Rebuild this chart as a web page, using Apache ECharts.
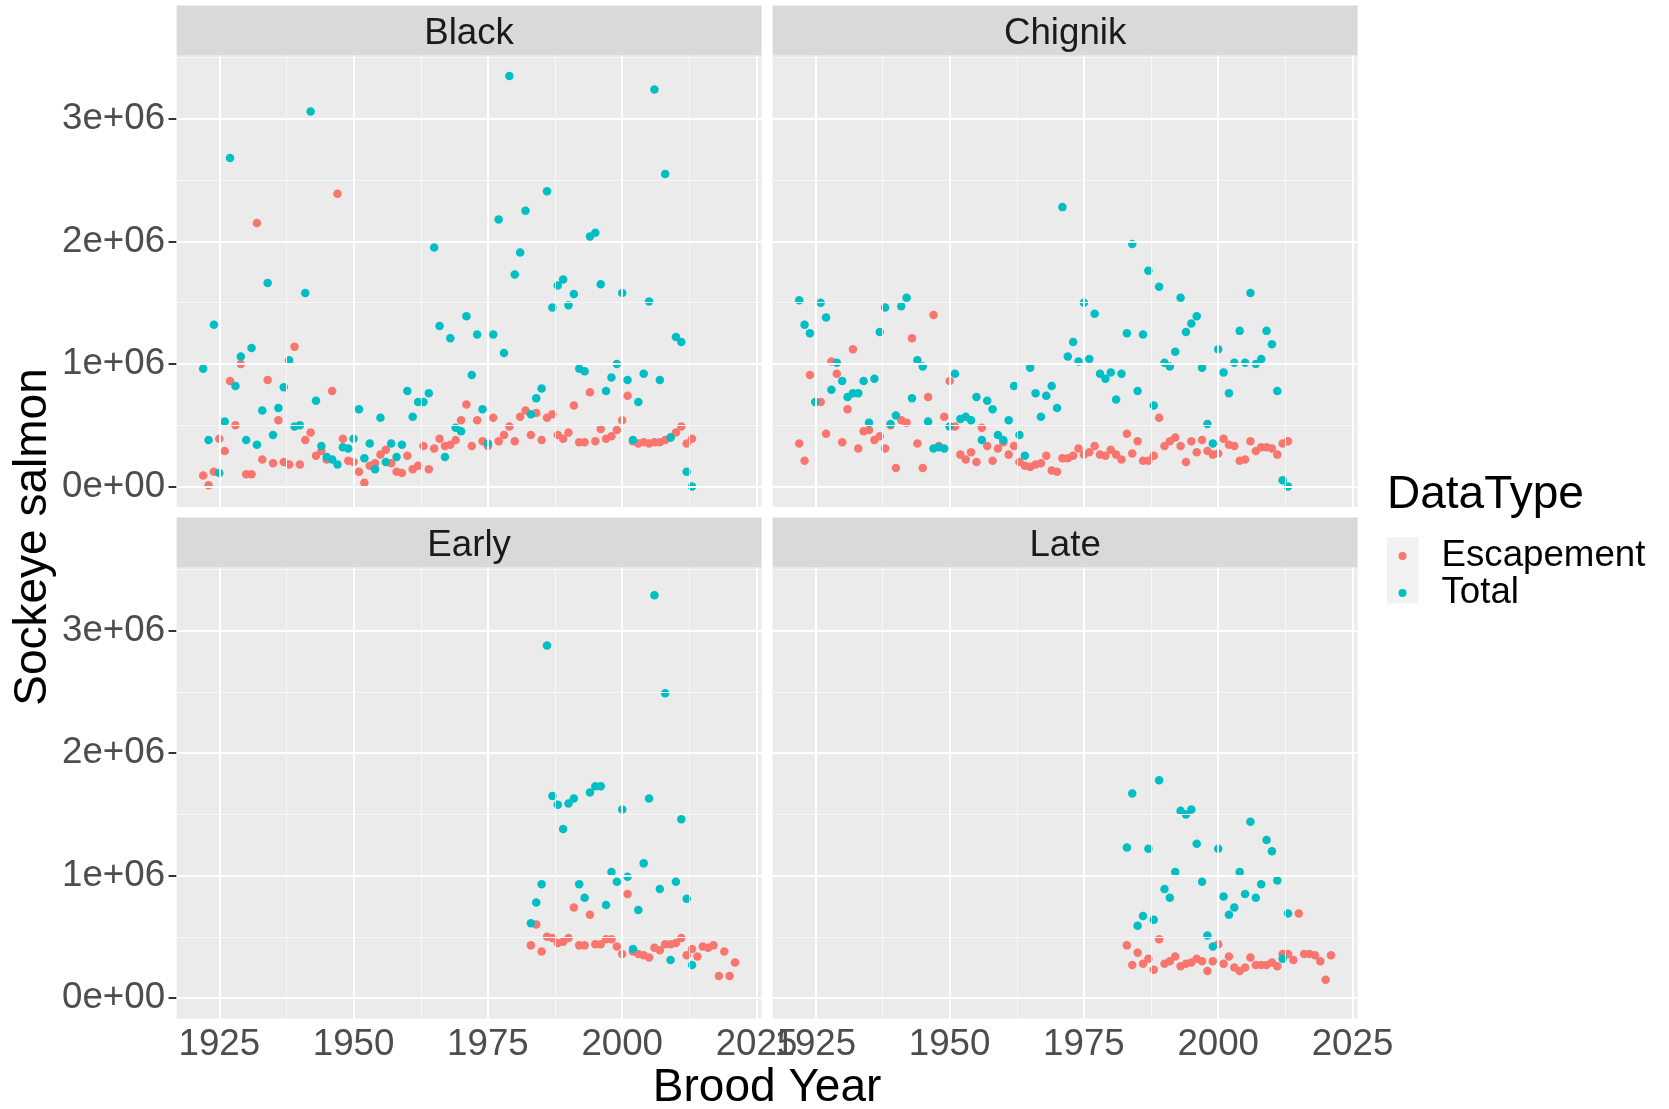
<!DOCTYPE html>
<html>
<head>
<meta charset="utf-8">
<script src="https://cdn.jsdelivr.net/npm/echarts@6/dist/echarts.min.js"></script>
<style>
html,body{margin:0;padding:0;background:#ffffff;}
#chart{width:1669px;height:1109px;}
</style>
</head>
<body>
<div id="chart"></div>
<script>
// ---------- data (values in millions of fish) ----------
const panelNames = ['Black', 'Chignik', 'Early', 'Late'];
const typeNames = ['Escapement', 'Total'];
const typeColors = ['#F8766D', '#00BFC4'];

const yTickValues = [0, 1000000, 2000000, 3000000];
const yTickLabels = ['0e+00', '1e+06', '2e+06', '3e+06'];
const yMinorValues = [500000, 1500000, 2500000, 3500000];
const xTickValues = [1925, 1950, 1975, 2000, 2025];
const xTickLabels = ['1925', '1950', '1975', '2000', '2025'];
const xMinorValues = [1937.5, 1962.5, 1987.5, 2012.5];

const blackEscapement = [[1922,0.09],[1923,0.01],[1924,0.12],[1925,0.39],[1926,0.29],[1927,0.86],[1928,0.50],[1929,1.00],[1930,0.10],[1931,0.10],[1932,2.15],[1933,0.22],[1934,0.87],[1935,0.19],[1936,0.54],[1937,0.20],[1938,0.18],[1939,1.14],[1940,0.18],[1941,0.38],[1942,0.44],[1943,0.25],[1944,0.29],[1945,0.22],[1946,0.78],[1947,2.39],[1948,0.39],[1949,0.21],[1950,0.20],[1951,0.12],[1952,0.03],[1953,0.17],[1954,0.19],[1955,0.26],[1956,0.30],[1957,0.19],[1958,0.12],[1959,0.11],[1960,0.25],[1961,0.14],[1962,0.17],[1963,0.33],[1964,0.14],[1965,0.31],[1966,0.39],[1967,0.33],[1968,0.34],[1969,0.38],[1970,0.54],[1971,0.67],[1972,0.33],[1973,0.54],[1974,0.37],[1975,0.33],[1976,0.56],[1977,0.37],[1978,0.42],[1979,0.49],[1980,0.37],[1981,0.57],[1982,0.62],[1983,0.42],[1984,0.60],[1985,0.38],[1986,0.56],[1987,0.59],[1988,0.42],[1989,0.39],[1990,0.44],[1991,0.66],[1992,0.36],[1993,0.36],[1994,0.77],[1995,0.37],[1996,0.47],[1997,0.39],[1998,0.41],[1999,0.46],[2000,0.54],[2001,0.74],[2002,0.37],[2003,0.35],[2004,0.36],[2005,0.35],[2006,0.36],[2007,0.36],[2008,0.38],[2009,0.40],[2010,0.44],[2011,0.49],[2012,0.35],[2013,0.39]];
const blackTotal = [[1922,0.96],[1923,0.38],[1924,1.32],[1925,0.11],[1926,0.53],[1927,2.68],[1928,0.82],[1929,1.06],[1930,0.38],[1931,1.13],[1932,0.34],[1933,0.62],[1934,1.66],[1935,0.42],[1936,0.64],[1937,0.81],[1938,1.03],[1939,0.49],[1940,0.50],[1941,1.58],[1942,3.06],[1943,0.70],[1944,0.33],[1945,0.24],[1946,0.22],[1947,0.18],[1948,0.32],[1949,0.31],[1950,0.39],[1951,0.63],[1952,0.23],[1953,0.35],[1954,0.14],[1955,0.56],[1956,0.20],[1957,0.35],[1958,0.24],[1959,0.34],[1960,0.78],[1961,0.57],[1962,0.69],[1963,0.69],[1964,0.76],[1965,1.95],[1966,1.31],[1967,0.24],[1968,1.21],[1969,0.48],[1970,0.45],[1971,1.39],[1972,0.91],[1973,1.24],[1974,0.63],[1975,0.35],[1976,1.24],[1977,2.18],[1978,1.09],[1979,3.35],[1980,1.73],[1981,1.91],[1982,2.25],[1983,0.59],[1984,0.72],[1985,0.80],[1986,2.41],[1987,1.46],[1988,1.64],[1989,1.69],[1990,1.48],[1991,1.57],[1992,0.96],[1993,0.94],[1994,2.04],[1995,2.07],[1996,1.65],[1997,0.78],[1998,0.89],[1999,1.00],[2000,1.58],[2001,0.87],[2002,0.38],[2003,0.69],[2004,0.92],[2005,1.51],[2006,3.24],[2007,0.87],[2008,2.55],[2009,0.40],[2010,1.22],[2011,1.18],[2012,0.12],[2013,0.00]];

const chignikEscapement = [[1922,0.35],[1923,0.21],[1924,0.91],[1925,0.69],[1926,0.69],[1927,0.43],[1928,1.02],[1929,0.92],[1930,0.36],[1931,0.63],[1932,1.12],[1933,0.31],[1934,0.45],[1935,0.46],[1936,0.38],[1937,0.41],[1938,0.31],[1939,0.50],[1940,0.15],[1941,0.54],[1942,0.52],[1943,1.21],[1944,0.35],[1945,0.15],[1946,0.73],[1947,1.40],[1948,0.33],[1949,0.57],[1950,0.86],[1951,0.49],[1952,0.26],[1953,0.22],[1954,0.28],[1955,0.20],[1956,0.48],[1957,0.33],[1958,0.21],[1959,0.31],[1960,0.36],[1961,0.26],[1962,0.33],[1963,0.20],[1964,0.17],[1965,0.16],[1966,0.18],[1967,0.19],[1968,0.25],[1969,0.13],[1970,0.12],[1971,0.23],[1972,0.23],[1973,0.25],[1974,0.31],[1975,0.26],[1976,0.28],[1977,0.33],[1978,0.26],[1979,0.25],[1980,0.30],[1981,0.26],[1982,0.22],[1983,0.43],[1984,0.27],[1985,0.37],[1986,0.21],[1987,0.21],[1988,0.25],[1989,0.56],[1990,0.33],[1991,0.37],[1992,0.40],[1993,0.33],[1994,0.20],[1995,0.37],[1996,0.28],[1997,0.38],[1998,0.29],[1999,0.26],[2000,0.27],[2001,0.39],[2002,0.34],[2003,0.33],[2004,0.21],[2005,0.22],[2006,0.37],[2007,0.29],[2008,0.32],[2009,0.32],[2010,0.31],[2011,0.26],[2012,0.35],[2013,0.37]];
const chignikTotal = [[1922,1.52],[1923,1.32],[1924,1.25],[1925,0.69],[1926,1.50],[1927,1.38],[1928,0.79],[1929,1.01],[1930,0.86],[1931,0.73],[1932,0.76],[1933,0.76],[1934,0.86],[1935,0.52],[1936,0.88],[1937,1.26],[1938,1.46],[1939,0.51],[1940,0.58],[1941,1.47],[1942,1.54],[1943,0.72],[1944,1.03],[1945,0.98],[1946,0.53],[1947,0.31],[1948,0.32],[1949,0.31],[1950,0.49],[1951,0.92],[1952,0.55],[1953,0.57],[1954,0.54],[1955,0.73],[1956,0.38],[1957,0.70],[1958,0.63],[1959,0.42],[1960,0.38],[1961,0.54],[1962,0.82],[1963,0.42],[1964,0.25],[1965,0.97],[1966,0.76],[1967,0.57],[1968,0.74],[1969,0.82],[1970,0.64],[1971,2.28],[1972,1.06],[1973,1.18],[1974,1.02],[1975,1.50],[1976,1.04],[1977,1.41],[1978,0.92],[1979,0.88],[1980,0.93],[1981,0.71],[1982,0.92],[1983,1.25],[1984,1.98],[1985,0.78],[1986,1.24],[1987,1.76],[1988,0.66],[1989,1.63],[1990,1.01],[1991,0.98],[1992,1.10],[1993,1.54],[1994,1.26],[1995,1.33],[1996,1.39],[1997,0.97],[1998,0.51],[1999,0.35],[2000,1.12],[2001,0.93],[2002,0.76],[2003,1.01],[2004,1.27],[2005,1.01],[2006,1.58],[2007,1.00],[2008,1.04],[2009,1.27],[2010,1.16],[2011,0.78],[2012,0.05],[2013,0.00]];

const earlyEscapement = [[1983,0.43],[1984,0.60],[1985,0.38],[1986,0.50],[1987,0.49],[1988,0.45],[1989,0.46],[1990,0.49],[1991,0.74],[1992,0.43],[1993,0.43],[1994,0.68],[1995,0.44],[1996,0.44],[1997,0.48],[1998,0.48],[1999,0.42],[2000,0.36],[2001,0.85],[2002,0.38],[2003,0.36],[2004,0.35],[2005,0.33],[2006,0.41],[2007,0.39],[2008,0.44],[2009,0.44],[2010,0.45],[2011,0.49],[2012,0.35],[2013,0.40],[2014,0.34],[2015,0.42],[2016,0.41],[2017,0.43],[2018,0.18],[2019,0.38],[2020,0.18],[2021,0.29]];
const earlyTotal = [[1983,0.61],[1984,0.78],[1985,0.93],[1986,2.88],[1987,1.65],[1988,1.58],[1989,1.38],[1990,1.59],[1991,1.63],[1992,0.93],[1993,0.82],[1994,1.68],[1995,1.73],[1996,1.73],[1997,0.76],[1998,1.03],[1999,0.95],[2000,1.54],[2001,0.99],[2002,0.40],[2003,0.72],[2004,1.10],[2005,1.63],[2006,3.29],[2007,0.89],[2008,2.49],[2009,0.31],[2010,0.95],[2011,1.46],[2012,0.81],[2013,0.27]];

const lateEscapement = [[1983,0.43],[1984,0.27],[1985,0.37],[1986,0.28],[1987,0.32],[1988,0.23],[1989,0.48],[1990,0.28],[1991,0.30],[1992,0.34],[1993,0.26],[1994,0.28],[1995,0.29],[1996,0.32],[1997,0.30],[1998,0.22],[1999,0.30],[2000,0.44],[2001,0.28],[2002,0.34],[2003,0.25],[2004,0.22],[2005,0.25],[2006,0.33],[2007,0.27],[2008,0.27],[2009,0.27],[2010,0.29],[2011,0.26],[2012,0.36],[2013,0.36],[2014,0.31],[2015,0.69],[2016,0.36],[2017,0.36],[2018,0.35],[2019,0.30],[2020,0.15],[2021,0.35]];
const lateTotal = [[1983,1.23],[1984,1.67],[1985,0.59],[1986,0.67],[1987,1.22],[1988,0.64],[1989,1.78],[1990,0.89],[1991,0.82],[1992,1.03],[1993,1.53],[1994,1.50],[1995,1.54],[1996,1.26],[1997,0.95],[1998,0.51],[1999,0.42],[2000,1.22],[2001,0.83],[2002,0.68],[2003,0.74],[2004,1.03],[2005,0.85],[2006,1.44],[2007,0.82],[2008,0.93],[2009,1.29],[2010,1.20],[2011,0.96],[2012,0.32],[2013,0.69]];

const panelData = [
  [blackEscapement, blackTotal],
  [chignikEscapement, chignikTotal],
  [earlyEscapement, earlyTotal],
  [lateEscapement, lateTotal]
];

// ---------- layout ----------
const FONT = "'Liberation Sans', Arial, Helvetica, sans-serif";
const X_MIN = 1917.05, X_MAX = 2025.95;
const Y_MIN = -167500, Y_MAX = 3517500;
const grids = [
  {left: 176.6, top: 55.5, width: 585, height: 451.5},
  {left: 772.6, top: 55.5, width: 585, height: 451.5},
  {left: 176.6, top: 567.5, width: 585, height: 451},
  {left: 772.6, top: 567.5, width: 585, height: 451}
];
const STRIP_H = 50;

const chart = echarts.init(document.getElementById('chart'), null, {renderer: 'canvas'});

const xAxes = [], yAxes = [], series = [], graphics = [];
grids.forEach((g, i) => {
  const bottomRow = i >= 2, leftCol = i % 2 === 0;
  xAxes.push({
    type: 'value', gridIndex: i, min: X_MIN, max: X_MAX,
    axisLine: {show: false},
    splitLine: {show: false},
    axisTick: {show: bottomRow, customValues: xTickValues, length: 8, lineStyle: {color: '#333333', width: 2}},
    axisLabel: {show: bottomRow, customValues: xTickValues, margin: 8, fontSize: 36.7, color: '#4D4D4D', fontFamily: FONT,
      formatter: v => xTickLabels[xTickValues.indexOf(v)] ?? ''}
  });
  yAxes.push({
    type: 'value', gridIndex: i, min: Y_MIN, max: Y_MAX,
    axisLine: {show: false},
    splitLine: {show: false},
    axisTick: {show: leftCol, customValues: yTickValues, length: 8, lineStyle: {color: '#333333', width: 2}},
    axisLabel: {show: leftCol, customValues: yTickValues, margin: 11.5, fontSize: 36.7, color: '#4D4D4D', fontFamily: FONT,
      padding: [4, 0, 0, 0],
      formatter: v => yTickLabels[yTickValues.indexOf(v)] ?? ''}
  });
  // panel grid lines (ggplot style), behind points
  const lines = [];
  xMinorValues.forEach(v => lines.push({xAxis: v, lineStyle: {width: 1, color: '#F7F7F7'}}));
  yMinorValues.forEach(v => lines.push({yAxis: v, lineStyle: {width: 1, color: '#F7F7F7'}}));
  xTickValues.forEach(v => lines.push({xAxis: v, lineStyle: {width: 2, color: '#FFFFFF'}}));
  yTickValues.forEach(v => lines.push({yAxis: v, lineStyle: {width: 2, color: '#FFFFFF'}}));
  series.push({
    type: 'line', name: 'grid' + i, xAxisIndex: i, yAxisIndex: i, data: [], z: 1, silent: true,
    markLine: {silent: true, symbol: 'none', animation: false, label: {show: false},
      lineStyle: {type: 'solid'}, emphasis: {disabled: true}, data: lines}
  });
  typeNames.forEach((t, k) => {
    series.push({
      type: 'scatter', name: t, xAxisIndex: i, yAxisIndex: i, z: 3 + k,
      symbol: 'circle', symbolSize: 8.5,
      itemStyle: {color: typeColors[k], opacity: 1},
      emphasis: {disabled: true},
      data: panelData[i][k].map(d => [d[0], d[1] * 1e6])
    });
  });
  // facet strip
  graphics.push({
    type: 'rect', silent: true, z: 0,
    shape: {x: g.left, y: g.top - STRIP_H, width: g.width, height: STRIP_H},
    style: {fill: '#D9D9D9'}
  });
  graphics.push({
    type: 'text', silent: true, z: 1,
    x: g.left + g.width / 2, y: g.top - STRIP_H / 2 + 3.2,
    style: {text: panelNames[i], fill: '#1A1A1A', font: '36.7px ' + FONT,
      align: 'center', verticalAlign: 'middle', textAlign: 'center', textVerticalAlign: 'middle'}
  });
});

// axis titles
graphics.push({
  type: 'text', silent: true,
  x: (grids[0].left + grids[1].left + grids[1].width) / 2, y: 1088,
  style: {text: 'Brood Year', fill: '#000000', font: '46px ' + FONT,
    align: 'center', verticalAlign: 'middle', textAlign: 'center', textVerticalAlign: 'middle'}
});
graphics.push({
  type: 'text', silent: true,
  x: 33, y: (grids[0].top + grids[2].top + grids[2].height) / 2, rotation: Math.PI / 2,
  style: {text: 'Sockeye salmon', fill: '#000000', font: '46px ' + FONT,
    align: 'center', verticalAlign: 'middle', textAlign: 'center', textVerticalAlign: 'middle'}
});
// legend title and key background
graphics.push({
  type: 'text', silent: true,
  x: 1387, y: 495,
  style: {text: 'DataType', fill: '#000000', font: '46px ' + FONT,
    align: 'left', verticalAlign: 'middle', textAlign: 'left', textVerticalAlign: 'middle'}
});
graphics.push({
  type: 'rect', silent: true, z: -1,
  shape: {x: 1387, y: 537, width: 31.5, height: 66.6},
  style: {fill: '#F2F2F2'}
});

chart.setOption({
  animation: false,
  backgroundColor: '#FFFFFF',
  textStyle: {fontFamily: FONT},
  grid: grids.map(g => Object.assign({show: true, backgroundColor: '#EBEBEB', borderWidth: 0, containLabel: false}, g)),
  xAxis: xAxes,
  yAxis: yAxes,
  legend: {
    data: typeNames.map(n => ({name: n, icon: 'circle'})),
    orient: 'vertical', left: 1398.5, top: 537.5, padding: 0,
    itemWidth: 8, itemHeight: 8, itemGap: 0, selectedMode: false,
    textStyle: {fontSize: 36.7, color: '#000000', lineHeight: 33.3, padding: [2, 0, 0, 30], fontFamily: FONT}
  },
  graphic: {elements: graphics},
  series: series
});
</script>
</body>
</html>
